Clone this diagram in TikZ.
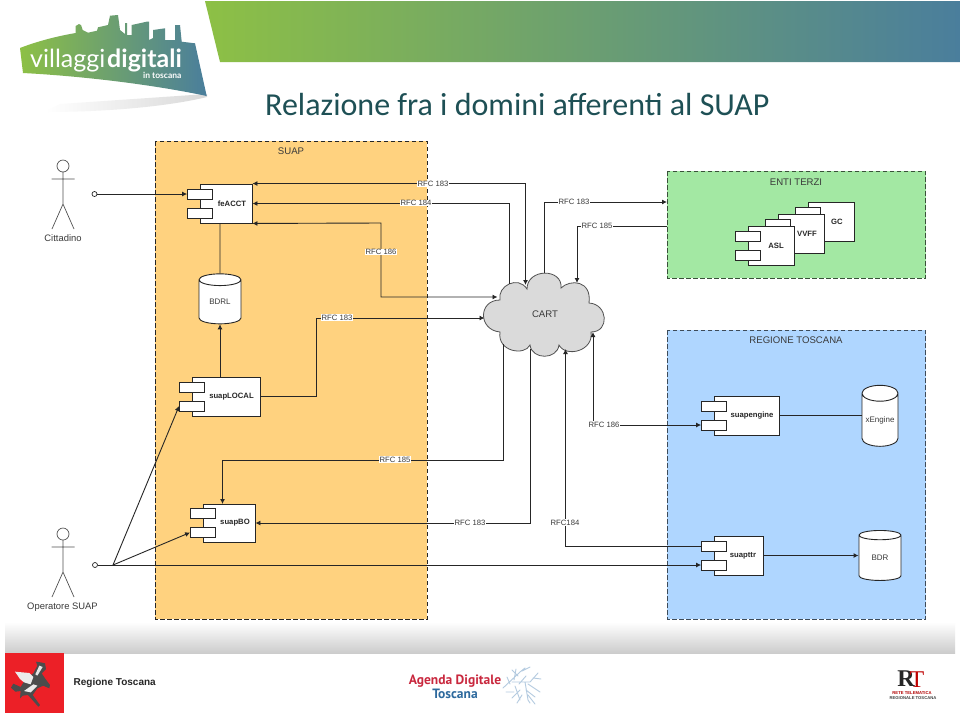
\documentclass[tikz,border=0pt]{standalone}
\usepackage{fontspec}
\setmainfont{Liberation Sans}
\newfontfamily\titlefont{Carlito}
\newfontfamily\logofont{Lato}
\newfontfamily\agendafont{PT Sans}
\newfontfamily\rtfont{Liberation Serif}
\usetikzlibrary{arrows.meta,shapes.geometric,calc}
\definecolor{suapfill}{HTML}{FFD27F}
\definecolor{entifill}{HTML}{A3E8A3}
\definecolor{regfill}{HTML}{AFD6FF}
\definecolor{ink}{HTML}{262626}
\definecolor{labelink}{HTML}{3A3A3A}
\definecolor{bandgreen}{HTML}{8DC045}
\definecolor{bandmid}{HTML}{6FA46A}
\definecolor{bandblue}{HTML}{4A7E9C}
\definecolor{titleink}{HTML}{1E5055}
\definecolor{cloudfill}{HTML}{DADADA}
\definecolor{emblemred}{HTML}{EC2027}
\definecolor{agendared}{HTML}{C9283E}
\definecolor{agendablue}{HTML}{2E6A9E}
\definecolor{coral}{HTML}{B4CBE0}
\tikzset{
  zone/.style={draw=#1,line width=0.9pt,dash pattern=on 4.5pt off 2.5pt},
  zonetitle/.style={font=\fontsize{9.6}{11}\selectfont,text=labelink,inner sep=0pt},
  compbox/.style={draw=ink,fill=white,line width=0.9pt,inner sep=0pt},
  portbox/.style={draw=ink,fill=white,line width=0.9pt,inner sep=0pt,minimum width=25pt,minimum height=10pt},
  compname/.style={font=\fontsize{7.7}{9}\selectfont\bfseries,text=ink,inner sep=0pt},
  store/.style={cylinder,shape border rotate=90,aspect=0.55,draw=ink,fill=white,line width=0.9pt,
    inner sep=0pt,font=\fontsize{8}{9}\selectfont,text=labelink},
  wire/.style={draw=ink,line width=0.9pt},
  rfc/.style={fill=white,font=\fontsize{7.7}{9}\selectfont,text=labelink,inner sep=0.6pt},
  actorname/.style={font=\fontsize{9.4}{11}\selectfont,text=labelink,inner sep=0pt},
  endpoint/.style={circle,draw=ink,fill=white,line width=0.7pt,minimum size=5pt,inner sep=0pt},
  >={Latex[length=5pt,width=5pt]}
}
% name, centre x, centre y, width, height, caption, caption offset
\newcommand{\component}[7]{
  \node[compbox,minimum width=#4pt,minimum height=#5pt] (#1) at (#2,#3) {};
  \node[portbox] (#1A) at ($(#1.west)+(0.5,-9.5)$) {};
  \node[portbox] (#1B) at ($(#1.west)+(0.5,9.5)$) {};
  \node[compname] (#1Name) at ($(#1)+(#7,0)$) {#6};
}
% stick figure with its head at the given point
\newcommand{\stickman}[2]{
  \draw[draw=ink!80,line width=0.7pt,shift={(#1,#2)}]
    (0,0) circle[radius=6pt]
    (0,6) -- (0,38) (-11.5,13) -- (11.5,13)
    (0,38) -- (-11,63) (0,38) -- (11,63);
}
\begin{document}
\begin{tikzpicture}[x=1pt,y=-1pt]
\useasboundingbox (0,0) rectangle (960,716);
\fill[white] (0,0) rectangle (960,716);

% header band and slide title
\shade[left color=bandgreen,middle color=bandmid,right color=bandblue]
  (205,1) -- (960,1) -- (960,62) -- (220,62) -- cycle;
\node[anchor=base west,inner sep=0pt,font=\titlefont\fontsize{32}{36}\selectfont,text=titleink]
  (slidetitle) at (265,115) {Relazione fra i domini afferenti al SUAP};

% project logo
\shade[left color=white,right color=black!15]
  (45,112) .. controls (110,112) and (170,106) .. (207,97) -- (207,94) -- (60,104) -- cycle;
\shade[left color=bandgreen,middle color=bandmid,right color=bandblue]
  (20,48) .. controls (38,41) and (58,36) .. (75.7,33)
  -- (75.7,26) -- (79,24) -- (81,25) -- (82.7,30) -- (88,32.7) -- (97,30.7) -- (98,27.3)
  -- (108,25) -- (110,15.7) -- (118,15) -- (120,30) -- (125,34) -- (125,23) -- (127,23)
  -- (127,35) -- (131.7,35) -- (131.7,25) -- (146.7,21.7) -- (149,21.7) -- (149,40)
  -- (153,38) -- (153,30) -- (165,28.3) -- (165,40) -- (175,40) -- (175,25) -- (180,25)
  -- (181.7,41.7) -- (195,43.3) -- (206.7,96)
  .. controls (150,84) and (80,76) .. (23,73) -- cycle;
\node[anchor=base west,inner sep=0pt,text=white,font=\logofont\fontsize{25}{28}\selectfont]
  (logoa) at (30,67) {villaggi};
\node[anchor=base west,inner sep=0pt,text=white,font=\logofont\fontsize{25}{28}\selectfont\bfseries]
  (logob) at (107,67) {digitali};
\node[anchor=base west,inner sep=0pt,text=white,font=\logofont\fontsize{8.5}{10}\selectfont\bfseries]
  (logoc) at (143,78.5) {in toscana};

% coloured zones
\fill[suapfill] (155,141) rectangle (427,619);
\draw[zone=ink] (155,141) rectangle (427,619);
\fill[entifill] (667,171) rectangle (925.5,278);
\draw[zone=black!65!entifill] (667,171) rectangle (925.5,278);
\fill[regfill] (667,330) rectangle (925.5,619);
\draw[zone=black!65!regfill] (667,330) rectangle (925.5,619);
\node[zonetitle] (suaptitle) at (291,151) {SUAP};
\node[zonetitle] (entititle) at (796,182) {ENTI TERZI};
\node[zonetitle] (regtitle) at (796,340) {REGIONE TOSCANA};

% CART cloud
\draw[draw=ink!80,fill=cloudfill,line width=0.8pt]
  (500,300) .. controls (497,286) and (518,275) .. (527,289)
  .. controls (527,268) and (563,268) .. (561,288)
  .. controls (570,279) and (592,280) .. (589,303)
  .. controls (608,304) and (610,332) .. (591,332)
  .. controls (594,351) and (566,358) .. (559,345)
  .. controls (557,360) and (532,360) .. (530,345)
  .. controls (525,356) and (497,352) .. (500,332)
  .. controls (478,330) and (478,300) .. (500,300) -- cycle;
\node[inner sep=0pt,font=\fontsize{9.6}{11}\selectfont,text=labelink] (cart) at (545,314) {CART};
\coordinate (cartA) at (525.5,285);
\coordinate (cartB) at (509,284);
\coordinate (cartC) at (497.5,297);
\coordinate (cartD) at (484.5,318);
\coordinate (cartE) at (544,273);
\coordinate (cartF) at (577,283);
\coordinate (cartG) at (503,343.5);
\coordinate (cartH) at (530.7,349);
\coordinate (cartI) at (565.5,349);
\coordinate (cartJ) at (593,332);

% actors
\stickman{63}{166}
\node[actorname] (cittadino) at (63,238.5) {Cittadino};
\node[endpoint] (cittadinoEnd) at (94.5,194) {};
\stickman{63}{534}
\node[actorname] (operatore) at (62.5,607) {Operatore SUAP};
\node[endpoint] (operatoreEnd) at (95,565) {};
\coordinate (fork) at (113,565);

% components
\component{feacct}{226}{203.5}{52}{39}{feACCT}{6}
\component{suaplocal}{226}{396.5}{68}{39}{suapLOCAL}{5.5}
\component{suapbo}{229}{523}{52}{38}{suapBO}{6}
\component{suapengine}{746.5}{415.5}{65}{39}{suapengine}{5.5}
\component{suapttr}{738.5}{555.5}{49}{39}{suapttr}{4.5}
\component{gc}{831}{221.5}{46}{39}{GC}{6}
\component{vvff}{801}{233.5}{46}{39}{VVFF}{6}
\component{asl}{771}{245.5}{46}{39}{ASL}{5}

% data stores
\node[store,minimum width=42pt,minimum height=50pt] (bdrl) at (220,302) {BDRL};
\node[store,minimum width=36pt,minimum height=61pt] (xengine) at (880,420) {xEngine};
\node[store,minimum width=42pt,minimum height=50pt] (bdr) at (880,558) {BDR};

% connectors
\draw[wire] (feacct.south -| bdrl) -- (bdrl.north);
\draw[wire,->] (suaplocal.north -| bdrl) -- (bdrl.south);
\draw[wire,->] (cittadinoEnd.east) -- (feacctA.west);
\draw[wire,<->] (feacct.north east) -- (cartA |- feacct.north east) -- (cartA);
\draw[wire,<-] (feacct.east) -- (cartB |- feacct.east) -- (cartB);
\draw[wire,<->] (feacct.south east) -- (381,223) -- (381,297) -- (cartC);
\draw[wire,->] (suaplocal.east) -- (316,396.5) -- (316,318) -- (cartD);
\draw[wire,->] (cartE) -- (544,202) -- (667,202);
\draw[wire,->] (667,226) -- (577,226) -- (cartF);
\draw[wire,->] (cartG) -- (503,460) -- (222.5,460) -- (222.5,504);
\draw[wire,->] (cartH) -- (530.7,523) -- (suapbo.east);
\draw[wire,<-] (cartI) -- (565.5,546) -- (suapttrA.west);
\draw[wire,<->] (cartJ) -- (593,425) -- (suapengineB.west);
\draw[wire] (suapengine.east) -- (suapengine.east -| xengine.west);
\draw[wire,->] (suapttr.east) -- (suapttr.east -| bdr.west);
\draw[wire,->] (operatoreEnd.east) -- (suapttrB.west);
\draw[wire,->] (fork) -- (suaplocalB.west);
\draw[wire,->] (fork) -- (suapboB.west);

% interface labels
\node[rfc] (rfca) at (433,184) {RFC 183};
\node[rfc] (rfcb) at (416,203) {RFC 184};
\node[rfc] (rfcc) at (381,252) {RFC 186};
\node[rfc] (rfcd) at (337,317.5) {RFC 183};
\node[rfc] (rfce) at (574,202) {RFC 183};
\node[rfc] (rfcf) at (597,226) {RFC 185};
\node[rfc] (rfcg) at (604,424.5) {RFC 186};
\node[rfc] (rfch) at (395,459.5) {RFC 185};
\node[rfc] (rfci) at (470,522.5) {RFC 183};
\node[rfc] (rfcj) at (565,522.5) {RFC184};

% grey strip above the footer
\shade[top color=white,bottom color=black!20] (5,622) rectangle (955,653);

% Regione Toscana emblem
\fill[emblemred] (5,653) rectangle (64,713);
\begin{scope}[shift={(0,645)},x=0.3333pt,y=-0.3333pt]
  \fill[black!70] (135,55) -- (122,52) -- (108,50) -- (112,62) -- (100,85) -- (78,100)
    -- (62,126) -- (40,116) -- (33,128) -- (46,140) -- (62,138) -- (60,160) -- (68,152)
    -- (84,150) -- (115,185) -- (120,180) -- (98,150) -- (112,130) -- (130,122) -- (148,130)
    -- (150,120) -- (135,100) -- (125,85) -- (138,72) -- cycle;
  \fill[black!8] (45,80) -- (88,84) -- (100,96) -- (92,118) -- (72,112) -- (60,102) -- cycle;
  \fill[black!8] (72,138) -- (100,118) -- (112,122) -- (92,142) -- cycle;
  \fill[black!10] (118,62) -- (128,66) -- (112,92) -- (106,88) -- cycle;
\end{scope}
\node[anchor=west,inner sep=0pt,text=black!85,font=\fontsize{10}{12}\selectfont\bfseries]
  (regione) at (73.5,683) {Regione Toscana};

% Agenda Digitale mark
\node[inner sep=0pt,text=agendared,font=\agendafont\fontsize{13.5}{15}\selectfont\bfseries]
  (agenda) at (455,681) {Agenda Digitale};
\node[inner sep=0pt,text=agendablue,font=\agendafont\fontsize{13.5}{15}\selectfont\bfseries]
  (toscana) at (455,694) {Toscana};
\draw[draw=coral,line width=0.9pt,line cap=round,line join=round]
  (503,688) -- (520,672) -- (525,668)
  (512,682) -- (530,682) -- (538,673)
  (525,682) -- (528,700) -- (530,703)
  (515,686) -- (520,700)
  (518,676) -- (512,670)
  (528,684) -- (540,692)
  (520,690) -- (512,698)
  (510,684) -- (507,677)
  (514,680) -- (516,669)
  (522,671) -- (530,667)
  (533,678) -- (541,679)
  (526,690) -- (535,697)
  (522,695) -- (517,703)
  (528,695) -- (535,704)
  (506,692) -- (514,692)
  (519,684) -- (526,676);

% Rete Telematica mark
\node[inner sep=0pt,text=black!85,font=\rtfont\fontsize{24}{26}\selectfont\bfseries] (rtr) at (906,679) {R};
\node[inner sep=0pt,text=red!75!black,font=\rtfont\fontsize{24}{26}\selectfont] (rtt) at (917,680) {T};
\node[inner sep=0pt,text=red!70!black,font=\fontsize{4.2}{5}\selectfont\bfseries] (rtl) at (912,693.5) {RETE TELEMATICA};
\node[inner sep=0pt,text=black!75,font=\fontsize{4.2}{5}\selectfont\bfseries] (rtm) at (913,698.5) {REGIONALE TOSCANA};
\end{tikzpicture}
\end{document}
